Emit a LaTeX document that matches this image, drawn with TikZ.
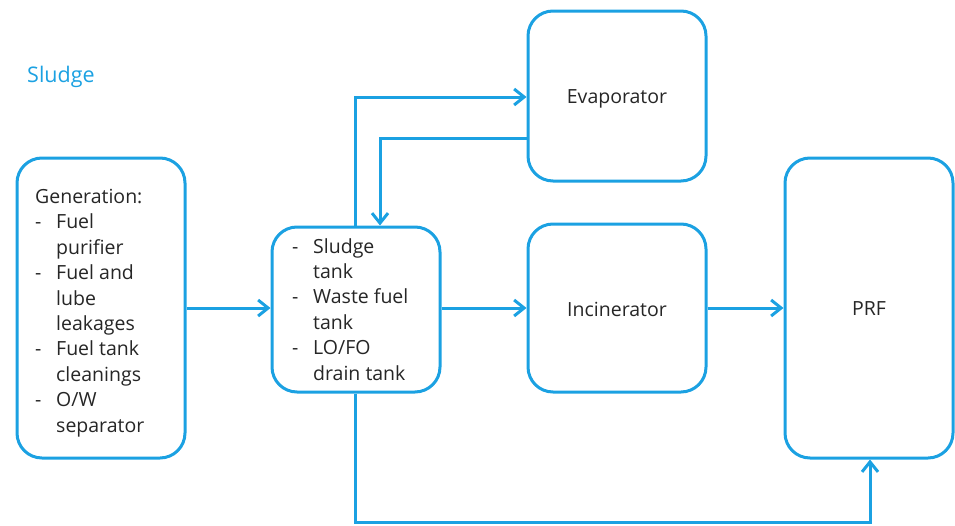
\documentclass[tikz,border=0pt]{standalone}
\usepackage{fontspec}
\setmainfont{Open Sans}
\usetikzlibrary{arrows.meta}
\definecolor{sblue}{RGB}{27,161,226}
\definecolor{stext}{RGB}{38,38,38}
\tikzset{
  box/.style={draw=sblue, line width=3pt, rounded corners=25pt, inner sep=0pt, fill=white},
  lbl/.style={text=stext, font=\fontsize{19.5}{25.4}\selectfont, inner sep=0pt},
  conn/.style={draw=sblue, line width=3pt, -{Straight Barb[length=10pt,width=16pt,line width=3pt]}},
  plain/.style={draw=sblue, line width=3pt}
}
\newcommand{\itm}[1]{\makebox[21pt][l]{-}#1}
\newcommand{\cnt}[1]{\hspace*{21pt}#1}
\begin{document}
\begin{tikzpicture}[x=1pt,y=-1pt]
\useasboundingbox (0,0) rectangle (955,525);
\node[text=sblue, font=\fontsize{21.5}{24}\selectfont, anchor=west, inner sep=0pt] (title) at (27,77) {Sludge};
% boxes
\node[box, minimum width=168pt, minimum height=300pt] (gen) at (101,308) {};
\node[box, minimum width=168pt, minimum height=165pt] (tank) at (356,309.5) {};
\node[box, minimum width=178pt, minimum height=170pt] (evap) at (617,96) {};
\node[box, minimum width=178pt, minimum height=168pt] (inc) at (617,308) {};
\node[box, minimum width=168pt, minimum height=300pt] (prf) at (869,308) {};
% texts
\node[lbl, anchor=north west, align=left] (gentext) at (35,189) {Generation:\\\itm{Fuel}\\\cnt{purifier}\\\itm{Fuel and}\\\cnt{lube}\\\cnt{leakages}\\\itm{Fuel tank}\\\cnt{cleanings}\\\itm{O/W}\\\cnt{separator}};
\node[lbl, anchor=north west, align=left] (tanktext) at (292,238) {\itm{Sludge}\\\cnt{tank}\\\itm{Waste fuel}\\\cnt{tank}\\\itm{LO/FO}\\\cnt{drain tank}};
\node[lbl] (evaptext) at (617,99) {Evaporator};
\node[lbl] (inctext) at (617,309) {Incinerator};
\node[lbl] (prftext) at (869,309) {PRF};
% connectors
\coordinate (c1) at (355,97);
\coordinate (c2) at (380,138);
\coordinate (c3) at (355,522);
\coordinate (c4) at (870,522);
\draw[conn] (gen.east |- 0,308) -- (tank.west |- 0,308);
\draw[conn] (tank.east |- 0,308) -- (inc.west |- 0,308);
\draw[conn] (inc.east |- 0,308) -- (prf.west |- 0,308);
\draw[conn] (tank.north -| c1) -- (c1) -- (evap.west |- c1);
\draw[conn] (evap.west |- c2) -- (c2) -- (tank.north -| c2);
\draw[conn] (tank.south -| c3) -- (c3) -- (c4) -- (prf.south -| c4);
\end{tikzpicture}
\end{document}
